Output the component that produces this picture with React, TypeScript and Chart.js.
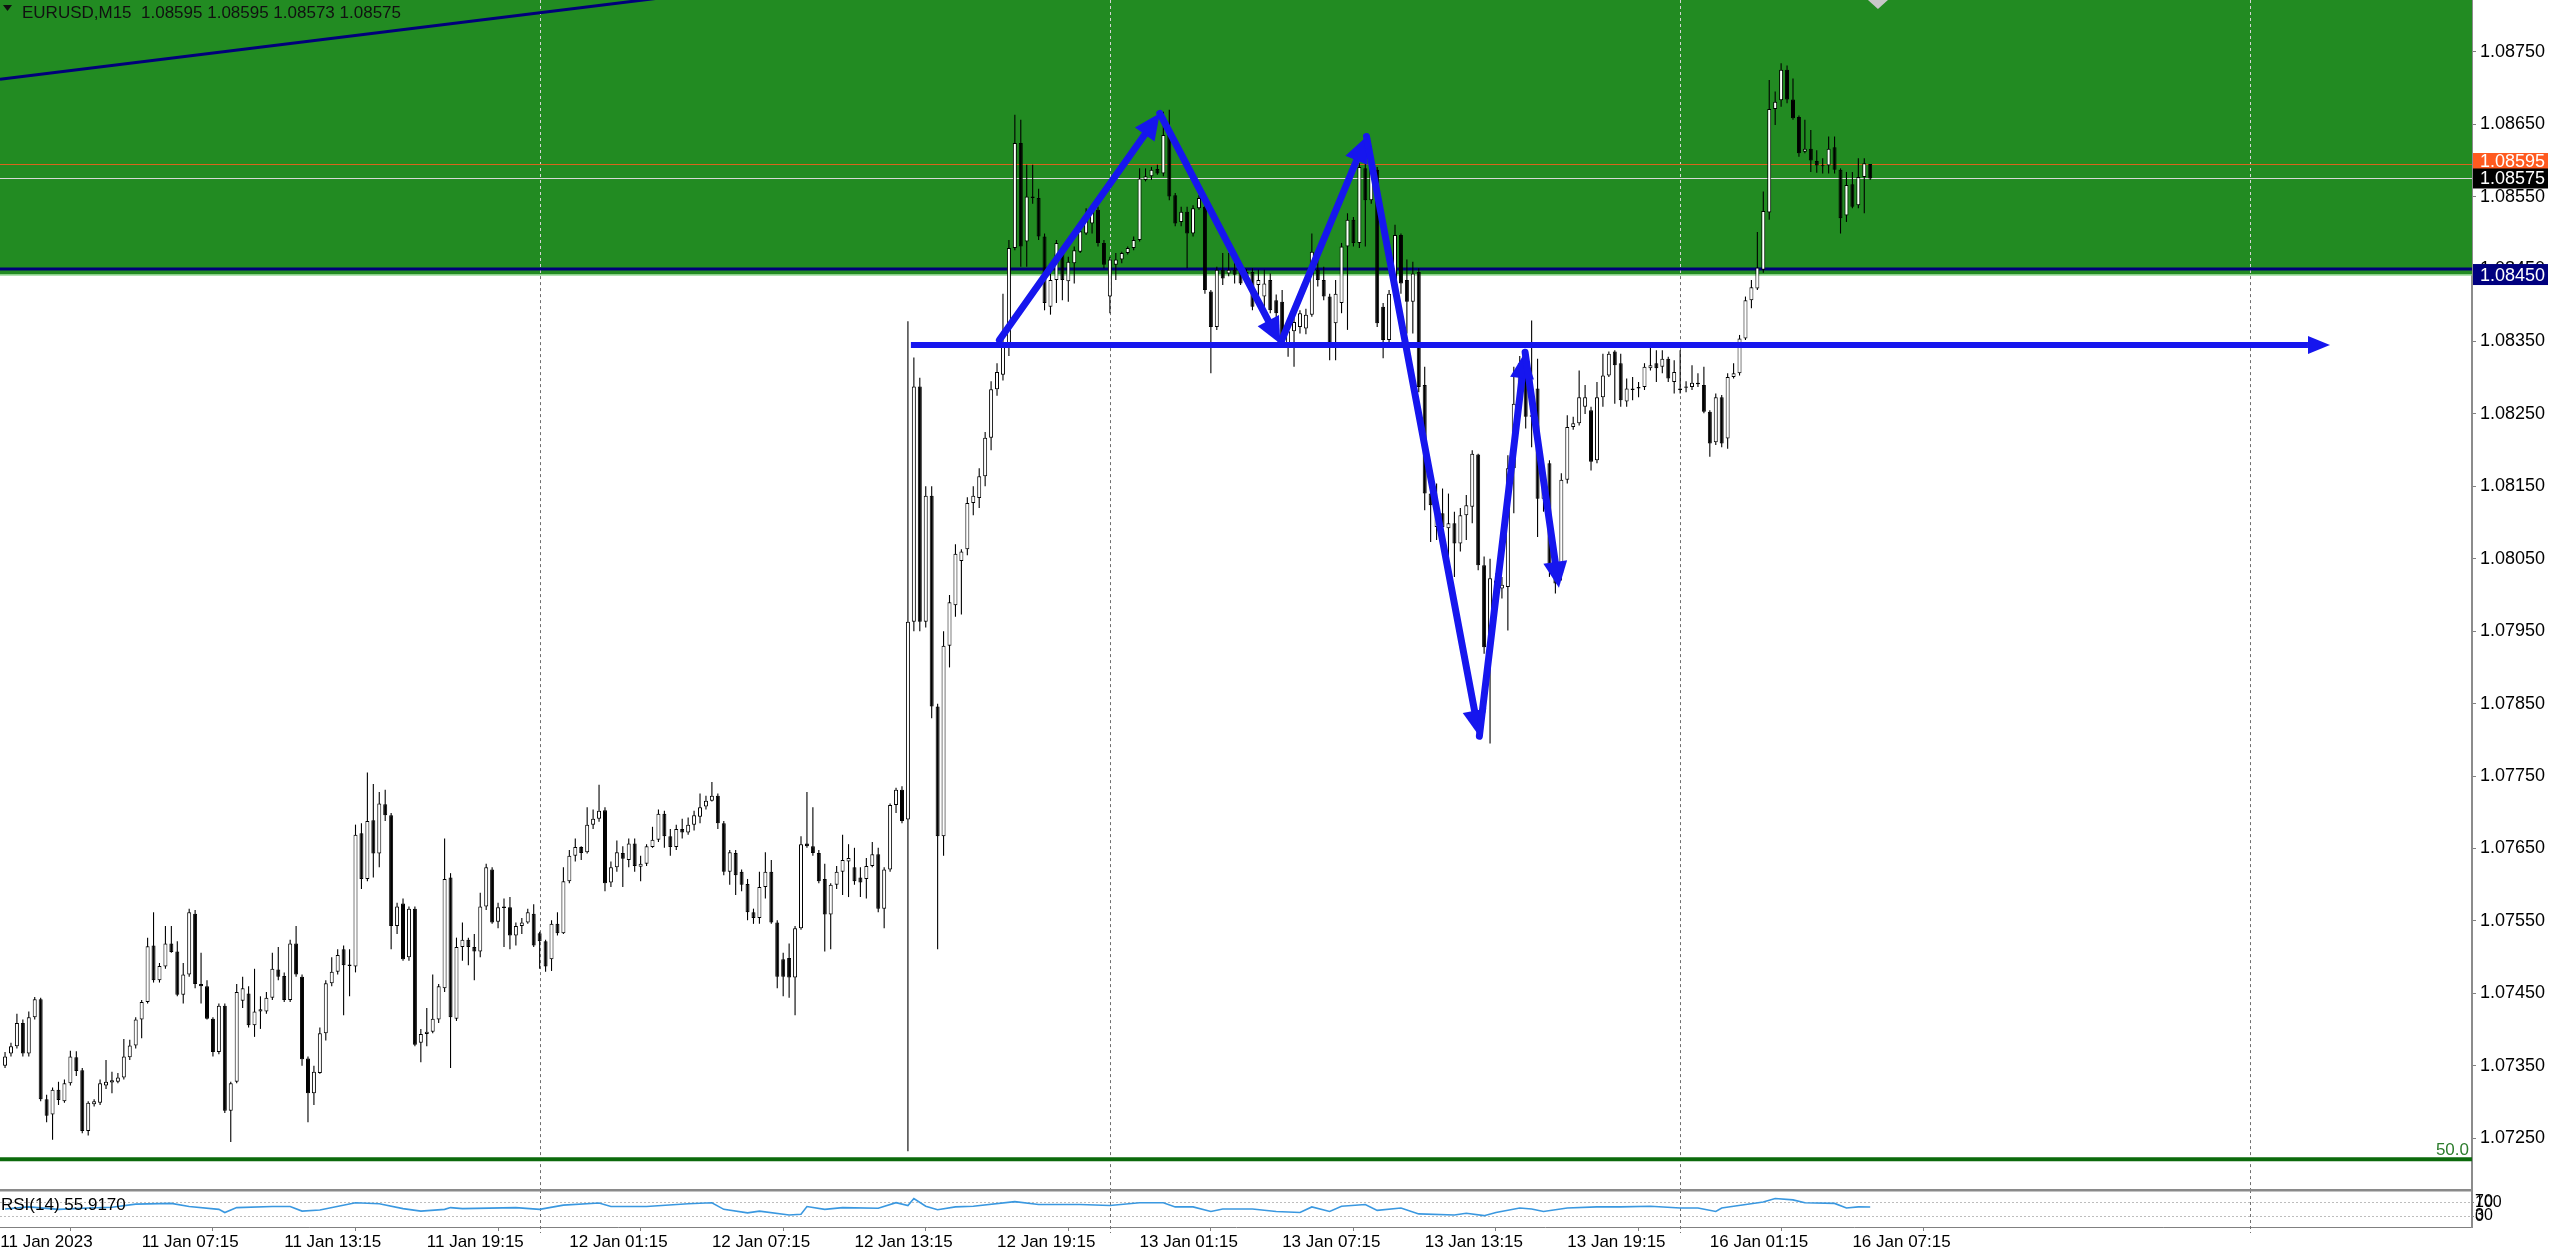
import React, { useEffect, useRef } from "react";
import { Chart, registerables } from "chart.js";

Chart.register(...registerables);

const FONT = "'Liberation Sans', Arial, sans-serif";

const CHART_TITLE = "EURUSD,M15  1.08595 1.08595 1.08573 1.08575";
const RSI_TITLE = "RSI(14) 55.9170";

// bar index 0 = 11 Jan 2023 00:00, one bar = 15 minutes
const FIRST_BAR = 6;
const VIEW_FIRST_BAR = 5.152;
const VIEW_LAST_BAR = 421.31;
const PRICE_MIN = 1.071786;
const PRICE_MAX = 1.088214;
const RSI_MIN = -1.43;
const RSI_MAX = 104.3;

const OPEN = [
  1.07350,1.07367,1.07377,1.07409,1.07367,1.07417,1.07442,1.07304,1.07283,1.07317,
  1.07301,1.07326,1.07362,1.07344,1.07260,1.07297,1.07299,1.07323,1.07327,1.07328,
  1.07334,1.07362,1.07378,1.07414,1.07438,1.07516,1.07468,1.07487,1.07519,1.07508,
  1.07448,1.07476,1.07560,1.07463,1.07460,1.07415,1.07369,1.07433,1.07288,1.07328,
  1.07440,1.07450,1.07406,1.07425,1.07425,1.07444,1.07483,1.07474,1.07441,1.07519,
  1.07473,1.07360,1.07312,1.07340,1.07395,1.07464,1.07480,1.07511,1.07488,1.07487,
  1.07671,1.07608,1.07689,1.07643,1.07711,1.07696,1.07543,1.07574,1.07500,1.07567,
  1.07382,1.07394,1.07397,1.07414,1.07457,1.07610,1.07415,1.07514,1.07524,1.07514,
  1.07508,1.07570,1.07621,1.07549,1.07570,1.07569,1.07530,1.07543,1.07548,1.07560,
  1.07533,1.07522,1.07497,1.07546,1.07533,1.07605,1.07640,1.07652,1.07645,1.07683,
  1.07691,1.07703,1.07603,1.07624,1.07644,1.07634,1.07657,1.07625,1.07629,1.07652,
  1.07662,1.07698,1.07667,1.07652,1.07677,1.07672,1.07683,1.07694,1.07708,1.07716,
  1.07723,1.07685,1.07618,1.07644,1.07618,1.07601,1.07562,1.07554,1.07597,1.07618,
  1.07548,1.07497,1.07499,1.07472,1.07540,1.07657,1.07653,1.07644,1.07608,1.07559,
  1.07600,1.07618,1.07632,1.07624,1.07610,1.07608,1.07626,1.07642,1.07567,1.07621,
  1.07710,1.07731,1.07690,1.07963,1.08288,1.07963,1.08137,1.07846,1.07667,1.07930,
  1.07986,1.08047,1.08063,1.08127,1.08134,1.08164,1.08217,1.08284,1.08304,1.08345,
  1.08479,1.08624,1.08488,1.08550,1.08548,1.08495,1.08398,1.08435,1.08476,1.08433,
  1.08458,1.08474,1.08499,1.08513,1.08532,1.08486,1.08412,1.08456,1.08463,1.08472,
  1.08479,1.08490,1.08573,1.08578,1.08588,1.08582,1.08637,1.08552,1.08515,1.08529,
  1.08499,1.08534,1.08536,1.08419,1.08370,1.08449,1.08444,1.08449,1.08449,1.08446,
  1.08446,1.08428,1.08412,1.08435,1.08407,1.08405,1.08347,1.08364,1.08370,1.08368,
  1.08387,1.08449,1.08435,1.08412,1.08375,1.08403,1.08481,1.08518,1.08486,1.08589,
  1.08545,1.08587,1.08398,1.08352,1.08416,1.08497,1.08435,1.08405,1.08446,1.08290,
  1.08140,1.08094,1.08113,1.08092,1.08099,1.08071,1.08110,1.08122,1.08194,1.08041,
  1.07928,1.08016,1.08009,1.08011,1.08175,1.08264,1.08320,1.08248,1.08285,1.08133,
  1.08182,1.08043,1.08030,1.08159,1.08232,1.08237,1.08260,1.08255,1.08186,1.08273,
  1.08303,1.08336,1.08320,1.08267,1.08283,1.08285,1.08287,1.08313,1.08320,1.08315,
  1.08326,1.08294,1.08283,1.08286,1.08287,1.08293,1.08290,1.08253,1.08211,1.08273,
  1.08216,1.08301,1.08306,1.08354,1.08407,1.08423,1.08449,1.08528,1.08671,1.08683,
  1.08725,1.08684,1.08660,1.08612,1.08616,1.08599,1.08593,1.08593,1.08618,1.08587,
  1.08524,1.08567,1.08538,1.08577,1.08595,
];

const HIGH = [
  1.07369,1.07382,1.07422,1.07414,1.07425,1.07445,1.07444,1.07310,1.07320,1.07328,
  1.07331,1.07371,1.07370,1.07347,1.07301,1.07304,1.07331,1.07358,1.07342,1.07340,
  1.07387,1.07386,1.07417,1.07441,1.07527,1.07562,1.07492,1.07543,1.07543,1.07522,
  1.07492,1.07567,1.07565,1.07506,1.07468,1.07417,1.07436,1.07436,1.07328,1.07463,
  1.07473,1.07460,1.07484,1.07446,1.07452,1.07506,1.07514,1.07479,1.07524,1.07543,
  1.07476,1.07363,1.07350,1.07403,1.07468,1.07500,1.07511,1.07516,1.07511,1.07683,
  1.07685,1.07755,1.07739,1.07728,1.07731,1.07699,1.07575,1.07581,1.07570,1.07570,
  1.07401,1.07430,1.07476,1.07463,1.07664,1.07616,1.07527,1.07548,1.07527,1.07532,
  1.07589,1.07629,1.07624,1.07575,1.07581,1.07583,1.07548,1.07554,1.07567,1.07573,
  1.07535,1.07524,1.07551,1.07562,1.07624,1.07648,1.07664,1.07653,1.07707,1.07704,
  1.07738,1.07707,1.07632,1.07661,1.07653,1.07664,1.07664,1.07640,1.07656,1.07680,
  1.07704,1.07702,1.07677,1.07683,1.07691,1.07693,1.07702,1.07726,1.07723,1.07742,
  1.07726,1.07688,1.07648,1.07648,1.07621,1.07608,1.07567,1.07618,1.07645,1.07634,
  1.07551,1.07506,1.07519,1.07543,1.07667,1.07728,1.07707,1.07648,1.07629,1.07602,
  1.07626,1.07669,1.07656,1.07651,1.07624,1.07637,1.07659,1.07651,1.07624,1.07712,
  1.07734,1.07736,1.08378,1.08328,1.08300,1.08150,1.08150,1.07850,1.07950,1.08000,
  1.08070,1.08063,1.08135,1.08150,1.08175,1.08225,1.08295,1.08320,1.08416,1.08490,
  1.08663,1.08656,1.08594,1.08594,1.08561,1.08499,1.08444,1.08490,1.08479,1.08467,
  1.08481,1.08509,1.08534,1.08536,1.08536,1.08490,1.08467,1.08472,1.08474,1.08481,
  1.08495,1.08589,1.08589,1.08591,1.08594,1.08667,1.08670,1.08555,1.08536,1.08536,
  1.08538,1.08552,1.08541,1.08421,1.08453,1.08472,1.08472,1.08463,1.08456,1.08450,
  1.08451,1.08449,1.08449,1.08444,1.08415,1.08421,1.08370,1.08389,1.08393,1.08395,
  1.08499,1.08472,1.08453,1.08416,1.08435,1.08486,1.08527,1.08522,1.08596,1.08600,
  1.08620,1.08591,1.08403,1.08421,1.08511,1.08499,1.08463,1.08460,1.08451,1.08315,
  1.08145,1.08154,1.08147,1.08140,1.08115,1.08120,1.08138,1.08200,1.08195,1.08053,
  1.08050,1.08030,1.08025,1.08193,1.08315,1.08330,1.08324,1.08379,1.08326,1.08163,
  1.08186,1.08050,1.08168,1.08248,1.08246,1.08310,1.08290,1.08260,1.08294,1.08333,
  1.08336,1.08338,1.08333,1.08299,1.08301,1.08294,1.08320,1.08349,1.08338,1.08338,
  1.08329,1.08324,1.08338,1.08295,1.08317,1.08306,1.08315,1.08255,1.08278,1.08276,
  1.08306,1.08320,1.08359,1.08412,1.08435,1.08501,1.08557,1.08711,1.08695,1.08734,
  1.08731,1.08713,1.08662,1.08656,1.08642,1.08614,1.08603,1.08633,1.08633,1.08589,
  1.08584,1.08584,1.08603,1.08603,1.08595,
];

const LOW = [
  1.07347,1.07363,1.07374,1.07363,1.07363,1.07414,1.07301,1.07272,1.07248,1.07296,
  1.07299,1.07323,1.07336,1.07257,1.07254,1.07294,1.07296,1.07318,1.07312,1.07326,
  1.07331,1.07358,1.07374,1.07388,1.07436,1.07465,1.07465,1.07484,1.07506,1.07446,
  1.07436,1.07473,1.07457,1.07436,1.07414,1.07363,1.07366,1.07285,1.07245,1.07326,
  1.07430,1.07403,1.07390,1.07401,1.07422,1.07441,1.07468,1.07438,1.07438,1.07473,
  1.07350,1.07272,1.07296,1.07339,1.07385,1.07460,1.07476,1.07420,1.07446,1.07479,
  1.07594,1.07605,1.07610,1.07624,1.07688,1.07511,1.07532,1.07495,1.07495,1.07377,
  1.07355,1.07377,1.07395,1.07409,1.07452,1.07347,1.07412,1.07495,1.07489,1.07468,
  1.07500,1.07565,1.07546,1.07540,1.07514,1.07511,1.07516,1.07532,1.07546,1.07514,
  1.07484,1.07480,1.07481,1.07530,1.07532,1.07602,1.07632,1.07634,1.07643,1.07677,
  1.07687,1.07591,1.07597,1.07618,1.07597,1.07624,1.07618,1.07605,1.07626,1.07651,
  1.07659,1.07651,1.07640,1.07648,1.07664,1.07669,1.07675,1.07685,1.07704,1.07715,
  1.07677,1.07613,1.07600,1.07586,1.07591,1.07551,1.07546,1.07546,1.07581,1.07546,
  1.07457,1.07446,1.07444,1.07420,1.07538,1.07651,1.07640,1.07602,1.07508,1.07511,
  1.07594,1.07586,1.07583,1.07600,1.07583,1.07581,1.07624,1.07562,1.07540,1.07618,
  1.07699,1.07685,1.07232,1.07950,1.07950,1.07955,1.07830,1.07511,1.07640,1.07900,
  1.07970,1.07973,1.08055,1.08110,1.08120,1.08150,1.08200,1.08275,1.08296,1.08330,
  1.08476,1.08453,1.08453,1.08540,1.08490,1.08393,1.08387,1.08403,1.08407,1.08405,
  1.08430,1.08472,1.08497,1.08499,1.08481,1.08451,1.08389,1.08435,1.08458,1.08470,
  1.08476,1.08488,1.08571,1.08573,1.08580,1.08578,1.08545,1.08509,1.08509,1.08451,
  1.08495,1.08532,1.08416,1.08306,1.08366,1.08428,1.08440,1.08430,1.08428,1.08430,
  1.08393,1.08398,1.08393,1.08389,1.08380,1.08343,1.08329,1.08315,1.08361,1.08360,
  1.08384,1.08426,1.08407,1.08324,1.08324,1.08389,1.08366,1.08481,1.08479,1.08481,
  1.08540,1.08370,1.08327,1.08347,1.08412,1.08416,1.08361,1.08361,1.08280,1.08117,
  1.08073,1.08076,1.08071,1.08025,1.08025,1.08060,1.08076,1.08099,1.08034,1.07919,
  1.07795,1.08005,1.07995,1.07951,1.08113,1.08255,1.08230,1.08204,1.08080,1.08115,
  1.08025,1.08002,1.08020,1.08154,1.08228,1.08234,1.08250,1.08172,1.08182,1.08260,
  1.08301,1.08264,1.08260,1.08260,1.08269,1.08273,1.08283,1.08310,1.08294,1.08306,
  1.08294,1.08278,1.08278,1.08280,1.08283,1.08287,1.08251,1.08191,1.08207,1.08204,
  1.08202,1.08299,1.08303,1.08352,1.08396,1.08421,1.08445,1.08518,1.08649,1.08674,
  1.08679,1.08656,1.08605,1.08610,1.08584,1.08583,1.08582,1.08582,1.08582,1.08499,
  1.08515,1.08534,1.08534,1.08527,1.08573,
];

const CLOSE = [
  1.07363,1.07377,1.07409,1.07367,1.07417,1.07442,1.07304,1.07281,1.07317,1.07303,
  1.07326,1.07363,1.07343,1.07260,1.07299,1.07301,1.07326,1.07328,1.07330,1.07334,
  1.07363,1.07378,1.07414,1.07438,1.07515,1.07468,1.07488,1.07519,1.07507,1.07448,
  1.07476,1.07562,1.07463,1.07460,1.07415,1.07369,1.07433,1.07288,1.07326,1.07452,
  1.07457,1.07406,1.07425,1.07428,1.07444,1.07484,1.07473,1.07441,1.07519,1.07476,
  1.07359,1.07312,1.07342,1.07395,1.07464,1.07480,1.07503,1.07489,1.07490,1.07669,
  1.07608,1.07688,1.07643,1.07712,1.07696,1.07543,1.07570,1.07497,1.07567,1.07379,
  1.07394,1.07397,1.07415,1.07460,1.07608,1.07417,1.07514,1.07524,1.07514,1.07508,
  1.07570,1.07624,1.07548,1.07569,1.07568,1.07530,1.07543,1.07548,1.07562,1.07516,
  1.07522,1.07487,1.07546,1.07533,1.07605,1.07640,1.07652,1.07644,1.07683,1.07691,
  1.07702,1.07602,1.07624,1.07645,1.07636,1.07657,1.07626,1.07629,1.07653,1.07662,
  1.07698,1.07667,1.07652,1.07677,1.07672,1.07683,1.07696,1.07707,1.07716,1.07723,
  1.07685,1.07618,1.07645,1.07613,1.07600,1.07562,1.07554,1.07597,1.07618,1.07548,
  1.07473,1.07473,1.07472,1.07540,1.07656,1.07653,1.07644,1.07605,1.07559,1.07600,
  1.07618,1.07634,1.07637,1.07605,1.07603,1.07626,1.07642,1.07567,1.07621,1.07710,
  1.07731,1.07688,1.07963,1.08288,1.07963,1.08137,1.07846,1.07667,1.07930,1.07990,
  1.08057,1.08060,1.08127,1.08137,1.08164,1.08217,1.08284,1.08308,1.08345,1.08479,
  1.08624,1.08481,1.08550,1.08548,1.08495,1.08403,1.08435,1.08486,1.08435,1.08460,
  1.08476,1.08502,1.08522,1.08529,1.08486,1.08456,1.08463,1.08463,1.08472,1.08479,
  1.08490,1.08575,1.08578,1.08587,1.08582,1.08635,1.08550,1.08513,1.08529,1.08499,
  1.08534,1.08548,1.08421,1.08370,1.08449,1.08437,1.08449,1.08442,1.08430,1.08435,
  1.08398,1.08435,1.08430,1.08393,1.08389,1.08347,1.08364,1.08377,1.08389,1.08387,
  1.08474,1.08435,1.08412,1.08347,1.08416,1.08481,1.08518,1.08486,1.08591,1.08545,
  1.08591,1.08375,1.08352,1.08416,1.08497,1.08430,1.08405,1.08444,1.08287,1.08140,
  1.08124,1.08113,1.08094,1.08099,1.08071,1.08110,1.08124,1.08195,1.08041,1.07928,
  1.08023,1.08020,1.08014,1.08175,1.08264,1.08320,1.08246,1.08246,1.08133,1.08159,
  1.08043,1.08016,1.08159,1.08232,1.08237,1.08273,1.08273,1.08184,1.08273,1.08303,
  1.08333,1.08317,1.08269,1.08285,1.08285,1.08287,1.08315,1.08317,1.08313,1.08326,
  1.08299,1.08308,1.08285,1.08288,1.08293,1.08291,1.08253,1.08209,1.08273,1.08209,
  1.08301,1.08306,1.08354,1.08407,1.08425,1.08452,1.08530,1.08671,1.08681,1.08725,
  1.08684,1.08658,1.08610,1.08616,1.08600,1.08593,1.08592,1.08616,1.08587,1.08520,
  1.08566,1.08536,1.08577,1.08596,1.08575,
];

const RSI_BAR = [
  6,10,15,20,24,28,34,37,42,43,45,51,54,56,59,65,69,73,76,80,81,83,92,96,100,
  106,108,114,121,125,127,131,133,138,140,141,144,147,153,156,158,159,161,163,166,
  169,176,180,187,192,197,201,203,206,209,211,216,220,224,226,229,231,235,237,241,
  244,250,252,255,257,261,263,265,269,274,278,283,288,291,294,295,297,302,304,307,
  309,314,316,318,320,
];
const RSI_VALUE = [
  50,56,49,53,55,64,66,57,49,40,54,57,57,44,47,68,65,51,44,49,54,51,54,49,61,
  67,57,57,65,68,49,39,44,33,35,57,49,54,52,68,60,80,58,48,56,
  58,71,63,63,60,68,68,56,56,43,50,50,43,40,56,43,58,63,46,53,
  36,33,38,31,40,53,50,43,53,56,56,58,53,53,43,53,58,70,80,76,
  68,66,53,56,55.917,
];

const TIME_TICKS = [5.2, 29, 53, 77, 101, 125, 149, 173, 197, 221, 245, 269, 293, 317];
const TIME_LABELS = [
  "11 Jan 2023", "11 Jan 07:15", "11 Jan 13:15", "11 Jan 19:15",
  "12 Jan 01:15", "12 Jan 07:15", "12 Jan 13:15", "12 Jan 19:15",
  "13 Jan 01:15", "13 Jan 07:15", "13 Jan 13:15", "13 Jan 19:15",
  "16 Jan 01:15", "16 Jan 07:15",
];
const PRICE_TICKS = [
  1.0725, 1.0735, 1.0745, 1.0755, 1.0765, 1.0775, 1.0785, 1.0795,
  1.0805, 1.0815, 1.0825, 1.0835, 1.0845, 1.0855, 1.0865, 1.0875,
];
const RSI_TICKS = [30, 70];
const RSI_EDGE_LABELS = ["100", "0"]; // MT4 squeezes these onto the 70 / 30 rows
const RSI_LEVELS = [30, 70];
const DAY_SEPARATORS = [96, 192, 288, 384];

const ZONE_BOTTOM = 1.08443;
const RESISTANCE = 1.0845;
const ASK_PRICE = 1.08595;
const BID_PRICE = 1.08575;
const FIB_LEVEL = 1.07221;
const FIB_TEXT = "50.0";
const TREND_BAR = [5.152, 120];
const TREND_PRICE = [1.08712, 1.08828];
const NECK_BAR = [158.5, 397.4];
const NECK_PRICE = 1.08345;
const ZIGZAG_BAR = [173.4, 200.4, 220.7, 235.2, 254.2, 261.9, 267.6];
const ZIGZAG_PRICE = [1.08352, 1.08665, 1.08347, 1.08633, 1.07805, 1.08335, 1.0801];
const MARKER_BAR = 321.3;

const BLUE = "#1616ee";

function drawArrow(ctx: CanvasRenderingContext2D, x1: number, y1: number, x2: number, y2: number, width: number, headLen: number, headHalf: number) {
  const a = Math.atan2(y2 - y1, x2 - x1);
  const c = Math.cos(a), s = Math.sin(a);
  const bx = x2 - headLen * c, by = y2 - headLen * s;
  ctx.lineWidth = width;
  ctx.beginPath();
  ctx.moveTo(x1, y1);
  ctx.lineTo(bx, by);
  ctx.stroke();
  ctx.beginPath();
  ctx.moveTo(x2, y2);
  ctx.lineTo(bx - headHalf * s, by + headHalf * c);
  ctx.lineTo(bx + headHalf * s, by - headHalf * c);
  ctx.closePath();
  ctx.fill();
}

const noPadding = (s: any) => {
  s.paddingTop = 0;
  s.paddingBottom = 0;
  s.paddingLeft = 0;
  s.paddingRight = 0;
};

const overlayPlugin = {
  id: "mt4Overlay",
  beforeDatasetsDraw(chart: any) {
    const { ctx, chartArea } = chart;
    const xs = chart.scales.x, ys = chart.scales.y, yr = chart.scales.yRsi;
    const L = chartArea.left, R = chartArea.right;
    const px = (v: number) => xs.getPixelForValue(v);
    const py = (v: number) => ys.getPixelForValue(v);
    const hline = (y: number, color: string, w: number) => {
      ctx.strokeStyle = color; ctx.lineWidth = w;
      ctx.beginPath(); ctx.moveTo(L, y); ctx.lineTo(R, y); ctx.stroke();
    };
    ctx.save();
    ctx.beginPath();
    ctx.rect(L, ys.top, R - L, ys.bottom - ys.top);
    ctx.clip();
    const zoneY = py(ZONE_BOTTOM);
    ctx.fillStyle = "#228b22";
    ctx.fillRect(L, ys.top, R - L, zoneY - ys.top);
    ctx.fillStyle = "#7fcf7f";
    ctx.fillRect(L, zoneY, R - L, 1.5);
    ctx.lineWidth = 1;
    ctx.setLineDash([3, 3]);
    for (const d of DAY_SEPARATORS) {
      const x = Math.round(px(d)) + 0.5;
      ctx.strokeStyle = "#d4d4d4";
      ctx.beginPath(); ctx.moveTo(x, ys.top); ctx.lineTo(x, zoneY); ctx.stroke();
      ctx.strokeStyle = "#707070";
      ctx.beginPath(); ctx.moveTo(x, zoneY + 2); ctx.lineTo(x, ys.bottom); ctx.stroke();
    }
    ctx.setLineDash([]);
    hline(Math.round(py(ASK_PRICE)) + 0.5, "#d9641e", 1);
    hline(Math.round(py(BID_PRICE)) + 0.5, "#d8d8d8", 1);
    hline(py(RESISTANCE), "#00007a", 3);
    ctx.strokeStyle = "#00007a"; ctx.lineWidth = 3;
    ctx.beginPath();
    ctx.moveTo(px(TREND_BAR[0]), py(TREND_PRICE[0]));
    ctx.lineTo(px(TREND_BAR[1]), py(TREND_PRICE[1]));
    ctx.stroke();
    const fy = py(FIB_LEVEL);
    hline(fy, "#0c6a0c", 4);
    ctx.fillStyle = "#2c7c2c";
    ctx.font = `17px ${FONT}`;
    ctx.textAlign = "right";
    ctx.textBaseline = "alphabetic";
    ctx.fillText(FIB_TEXT, R - 3, fy - 4);
    ctx.restore();

    ctx.save();
    ctx.lineWidth = 1;
    ctx.setLineDash([2, 2]);
    ctx.strokeStyle = "#bdbdbd";
    for (const lv of RSI_LEVELS) {
      const y = Math.round(yr.getPixelForValue(lv)) + 0.5;
      ctx.beginPath(); ctx.moveTo(L, y); ctx.lineTo(R, y); ctx.stroke();
    }
    ctx.setLineDash([3, 3]);
    ctx.strokeStyle = "#707070";
    for (const d of DAY_SEPARATORS) {
      const x = Math.round(px(d)) + 0.5;
      ctx.beginPath(); ctx.moveTo(x, yr.top); ctx.lineTo(x, yr.bottom + 6); ctx.stroke();
    }
    ctx.setLineDash([]);
    ctx.fillStyle = "#8a8a8a";
    ctx.fillRect(L, yr.top - 1, R - L, 2.5);
    ctx.restore();
  },
  afterDatasetsDraw(chart: any) {
    const { ctx, chartArea } = chart;
    const xs = chart.scales.x, ys = chart.scales.y, yr = chart.scales.yRsi;
    const L = chartArea.left, R = chartArea.right;
    const px = (v: number) => xs.getPixelForValue(v);
    const py = (v: number) => ys.getPixelForValue(v);

    ctx.save();
    ctx.beginPath();
    ctx.rect(L, ys.top, R - L, ys.bottom - ys.top);
    ctx.clip();
    ctx.strokeStyle = BLUE;
    ctx.fillStyle = BLUE;
    ctx.lineCap = "butt";
    const ny = py(NECK_PRICE);
    drawArrow(ctx, px(NECK_BAR[0]), ny, px(NECK_BAR[1]), ny, 6, 22, 9);
    ctx.lineCap = "round";
    for (let k = 0; k < ZIGZAG_BAR.length - 1; k++) {
      drawArrow(
        ctx,
        px(ZIGZAG_BAR[k]), py(ZIGZAG_PRICE[k]),
        px(ZIGZAG_BAR[k + 1]), py(ZIGZAG_PRICE[k + 1]),
        7, 26, 12
      );
    }
    const mx = px(MARKER_BAR);
    ctx.fillStyle = "#c8c8c8";
    ctx.beginPath();
    ctx.moveTo(mx - 10, ys.top);
    ctx.lineTo(mx + 10, ys.top);
    ctx.lineTo(mx, ys.top + 9);
    ctx.closePath();
    ctx.fill();
    ctx.restore();

    ctx.save();
    ctx.fillStyle = "#111";
    ctx.beginPath();
    ctx.moveTo(3, 5); ctx.lineTo(12, 5); ctx.lineTo(7.5, 11); ctx.closePath(); ctx.fill();
    ctx.font = `17px ${FONT}`;
    ctx.textAlign = "left";
    ctx.textBaseline = "middle";
    ctx.fillText(CHART_TITLE, 22, 13);
    ctx.fillStyle = "#000";
    ctx.fillText(RSI_TITLE, 1, yr.top + 15);

    const boxX = R + 1, boxW = 2548 - R - 1;
    const box = (price: number, top: number, bottom: number, bg: string, label: string) => {
      const y = py(price);
      ctx.fillStyle = bg;
      ctx.fillRect(boxX, y + top, boxW, bottom - top);
      ctx.fillStyle = "#fff";
      ctx.textBaseline = "middle";
      ctx.font = `18px ${FONT}`;
      ctx.fillText(label, R + 8, y + (top + bottom) / 2 + 1);
    };
    box(ASK_PRICE, -11, 5, "#ff5a1f", ASK_PRICE.toFixed(5));
    box(BID_PRICE, -10, 10, "#000", BID_PRICE.toFixed(5));
    box(RESISTANCE, -5, 16, "#00007f", RESISTANCE.toFixed(5));

    // RSI edge labels squeezed onto the level rows
    ctx.fillStyle = "#000";
    ctx.font = `16px ${FONT}`;
    ctx.textBaseline = "middle";
    ctx.fillText(RSI_EDGE_LABELS[0], R + 3, yr.getPixelForValue(RSI_TICKS[1]) + 1);
    ctx.fillText(RSI_EDGE_LABELS[1], R + 3, yr.getPixelForValue(RSI_TICKS[0]) + 1);
    ctx.restore();
  },
};

export default function App() {
  const ref = useRef<HTMLCanvasElement>(null);
  useEffect(() => {
    document.body.style.margin = "0";
    const canvas = ref.current!;
    Chart.defaults.font.family = FONT;
    const idx = OPEN.map((_, k) => k);
    const chart = new Chart(canvas, {
      type: "bar",
      data: {
        datasets: [
          {
            type: "line",
            label: "RSI",
            data: RSI_BAR.map((b, k) => ({ x: b, y: RSI_VALUE[k] })),
            xAxisID: "x",
            yAxisID: "yRsi",
            borderColor: "#3a98e0",
            borderWidth: 1.6,
            pointRadius: 0,
            tension: 0,
            order: 0,
          } as any,
          {
            type: "bar",
            label: "body",
            data: idx.map((k) => ({ x: FIRST_BAR + k, y: [OPEN[k], CLOSE[k]] })),
            xAxisID: "x",
            yAxisID: "y",
            backgroundColor: idx.map((k) => (CLOSE[k] >= OPEN[k] ? "#ffffff" : "#000000")),
            borderColor: "#000000",
            borderWidth: 1,
            borderSkipped: false,
            barThickness: 4,
            minBarLength: 1,
            grouped: false,
            inflateAmount: 0,
            order: 1,
          } as any,
          {
            type: "bar",
            label: "wick",
            data: idx.map((k) => ({ x: FIRST_BAR + k, y: [LOW[k], HIGH[k]] })),
            xAxisID: "x",
            yAxisID: "y",
            backgroundColor: "#000000",
            borderWidth: 0,
            barThickness: 1.1,
            grouped: false,
            inflateAmount: 0,
            order: 2,
          } as any,
        ],
      },
      options: {
        responsive: false,
        maintainAspectRatio: false,
        devicePixelRatio: 1,
        animation: false,
        events: [],
        layout: { padding: 0 },
        plugins: { legend: { display: false }, tooltip: { enabled: false }, title: { display: false } },
        scales: {
          x: {
            type: "linear",
            position: "bottom",
            min: VIEW_FIRST_BAR,
            max: VIEW_LAST_BAR,
            offset: false,
            afterBuildTicks: (s: any) => { s.ticks = TIME_TICKS.map((v) => ({ value: v })); },
            afterFit: (s: any) => { s.height = 20; noPadding(s); },
            ticks: {
              autoSkip: false,
              maxRotation: 0,
              minRotation: 0,
              align: "start",
              padding: 1,
              color: "#000",
              font: { family: FONT, size: 17 },
              callback: (_v: any, i: number) => TIME_LABELS[i],
            },
            grid: { drawOnChartArea: false, drawTicks: true, tickLength: 4, color: "#808080" },
            border: { display: true, color: "#808080", width: 1 },
          },
          y: {
            type: "linear",
            position: "right",
            stack: "panes",
            stackWeight: 1190,
            min: PRICE_MIN,
            max: PRICE_MAX,
            afterBuildTicks: (s: any) => { s.ticks = PRICE_TICKS.map((v) => ({ value: v })); },
            afterFit: (s: any) => { s.width = 88; noPadding(s); },
            ticks: {
              autoSkip: false,
              padding: 4,
              color: "#000",
              font: { family: FONT, size: 18 },
              callback: (v: any) => Number(v).toFixed(5),
            },
            grid: { drawOnChartArea: false, drawTicks: true, tickLength: 4, color: "#808080" },
            border: { display: true, color: "#8c8c8c", width: 2 },
          },
          yRsi: {
            type: "linear",
            position: "right",
            stack: "panes",
            stackWeight: 37,
            min: RSI_MIN,
            max: RSI_MAX,
            afterBuildTicks: (s: any) => { s.ticks = RSI_TICKS.map((v) => ({ value: v })); },
            afterFit: (s: any) => { s.width = 88; noPadding(s); },
            ticks: {
              autoSkip: false,
              padding: 1,
              color: "#000",
              font: { family: FONT, size: 16 },
              callback: (v: any) => String(v),
            },
            grid: { drawOnChartArea: false, drawTicks: true, tickLength: 2, color: "#808080" },
            border: { display: true, color: "#8c8c8c", width: 2 },
          },
        },
      } as any,
      plugins: [overlayPlugin],
    });
    return () => chart.destroy();
  }, []);
  return (
    <div style={{ position: "fixed", left: 0, top: 0, width: 2560, height: 1247, background: "#ffffff" }}>
      <canvas ref={ref} width={2560} height={1247} style={{ display: "block", width: 2560, height: 1247 }} />
    </div>
  );
}
